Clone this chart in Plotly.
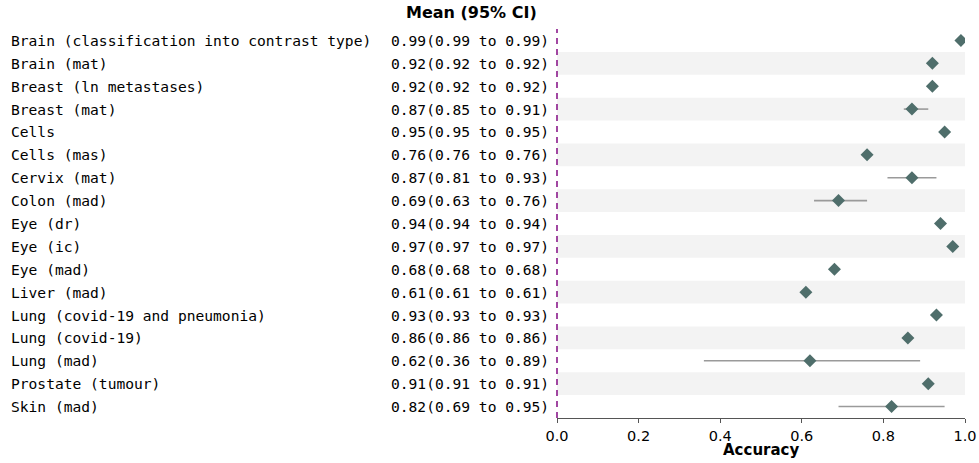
import plotly.graph_objects as go

labels = [
    "Brain (classification into contrast type)", "Brain (mat)", "Breast (ln metastases)",
    "Breast (mat)", "Cells", "Cells (mas)", "Cervix (mat)", "Colon (mad)", "Eye (dr)",
    "Eye (ic)", "Eye (mad)", "Liver (mad)", "Lung (covid-19 and pneumonia)",
    "Lung (covid-19)", "Lung (mad)", "Prostate (tumour)", "Skin (mad)",
]
means = [0.99, 0.92, 0.92, 0.87, 0.95, 0.76, 0.87, 0.69, 0.94, 0.97, 0.68, 0.61, 0.93, 0.86, 0.62, 0.91, 0.82]
lows  = [0.99, 0.92, 0.92, 0.85, 0.95, 0.76, 0.81, 0.63, 0.94, 0.97, 0.68, 0.61, 0.93, 0.86, 0.36, 0.91, 0.69]
highs = [0.99, 0.92, 0.92, 0.91, 0.95, 0.76, 0.93, 0.76, 0.94, 0.97, 0.68, 0.61, 0.93, 0.86, 0.89, 0.91, 0.95]
x_ticks = [0.0, 0.2, 0.4, 0.6, 0.8, 1.0]

n = len(labels)
ys = list(range(n))

W, H = 979, 463
L, R, T, B = 557, 14, 28.5, 44.5
pw = W - L - R
ph = H - T - B

def px_to_paper(px):
    return (px - L) / pw

def py_to_paper(py):
    return (H - B - py) / ph

fig = go.Figure()

for i in ys:
    fig.add_trace(go.Scatter(
        x=[lows[i], highs[i]], y=[i, i], mode="lines",
        line=dict(color="#9a9a9a", width=1.6), hoverinfo="skip", showlegend=False,
    ))

fig.add_trace(go.Scatter(
    x=means, y=ys, mode="markers",
    marker=dict(symbol="diamond", size=10, color="#4f6e6b"),
    showlegend=False,
))

shapes = []
for i in ys:
    if i % 2 == 1:
        shapes.append(dict(type="rect", xref="paper", yref="y", x0=0, x1=1,
                           y0=i - 0.5, y1=i + 0.5, fillcolor="#f3f3f3",
                           line=dict(width=0), layer="below"))
# dashed reference line at x = 0 (plot's left edge), drawn unclipped
shapes.append(dict(type="line", xref="paper", yref="paper", x0=0, x1=0, y0=0, y1=1,
                   line=dict(color="#8b1a8b", width=1.6, dash="6px,5px"), layer="above"))

annotations = []
mono = "DejaVu Sans Mono"
for i in ys:
    annotations.append(dict(x=px_to_paper(10), y=i, xref="paper", yref="y",
                            text=labels[i], showarrow=False, xanchor="left",
                            yanchor="middle", borderpad=0,
                            font=dict(family=mono, size=14.6, color="#000")))
    annotations.append(dict(x=px_to_paper(390), y=i, xref="paper", yref="y",
                            text=f"{means[i]:.2f}({lows[i]:.2f} to {highs[i]:.2f})",
                            showarrow=False, xanchor="left", yanchor="middle", borderpad=0,
                            font=dict(family=mono, size=14.6, color="#000")))
annotations.append(dict(x=px_to_paper(471), y=py_to_paper(12), xref="paper", yref="paper",
                        text="<b>Mean (95% CI)</b>", showarrow=False, xanchor="center",
                        yanchor="middle", font=dict(family="DejaVu Sans", size=16, color="#000")))
annotations.append(dict(x=0.5, y=py_to_paper(451), xref="paper", yref="paper",
                        text="<b>Accuracy</b>", showarrow=False, xanchor="center",
                        yanchor="middle", font=dict(family="DejaVu Sans", size=15, color="#000")))

fig.update_layout(
    width=W, height=H,
    margin=dict(l=L, r=R, t=T, b=B, pad=0, autoexpand=False),
    paper_bgcolor="white", plot_bgcolor="white",
    shapes=shapes, annotations=annotations,
    xaxis=dict(range=[0, 1], tickvals=x_ticks, ticktext=[f"{v:.1f}" for v in x_ticks],
               automargin=False,
               showgrid=False, zeroline=False, showline=True, linecolor="#555",
               linewidth=1.2, ticks="outside", ticklen=4, tickcolor="#555",
               tickfont=dict(family="DejaVu Sans", size=14.5, color="#000")),
    yaxis=dict(range=[n - 0.5, -0.5], showticklabels=False, showgrid=False,
               zeroline=False, showline=False, automargin=False),
    font=dict(family="DejaVu Sans"),
)

html = fig.to_html(include_plotlyjs=True, full_html=True, config={"displayModeBar": False})
html = html.replace("<head>", "<head><style>html,body{margin:0;padding:0;overflow:hidden;}</style>", 1)
with open("out.html", "w", encoding="utf-8") as f:
    f.write(html)
